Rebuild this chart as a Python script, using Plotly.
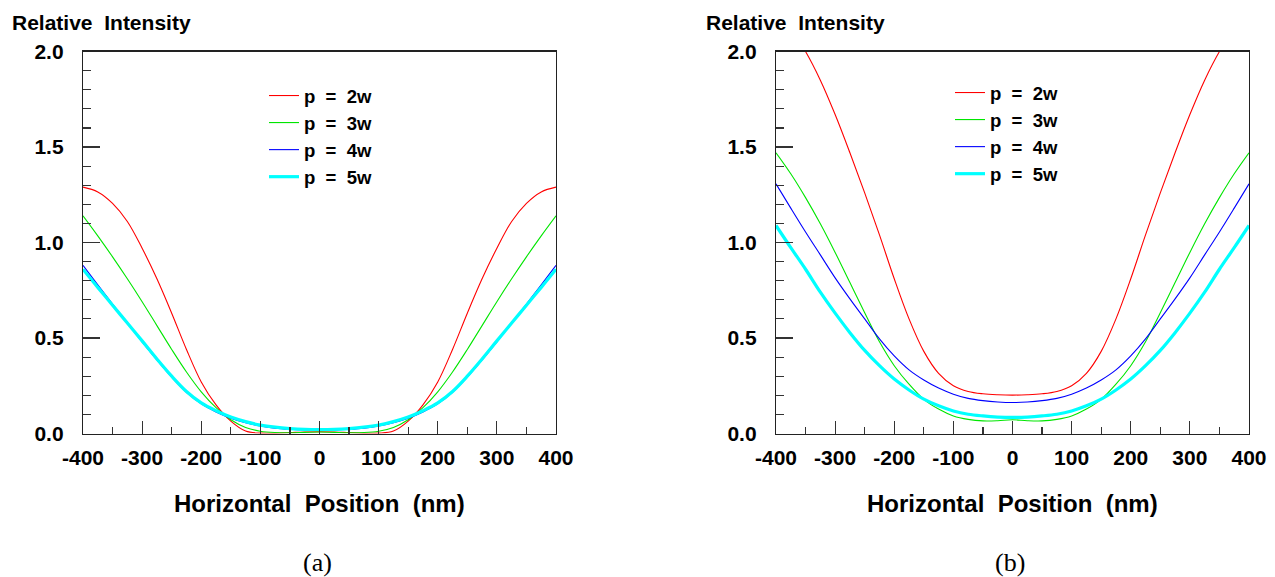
import plotly.graph_objects as go

# ---------------- data ----------------
x_nm = [-400, -375, -350, -325, -300, -275, -250, -225, -200, -175, -150, -125, -100, -75, -50, -25,
        0, 25, 50, 75, 100, 125, 150, 175, 200, 225, 250, 275, 300, 325, 350, 375, 400]

series_names = ["p\u00a0\u00a0=\u00a0\u00a02w", "p\u00a0\u00a0=\u00a0\u00a03w",
                "p\u00a0\u00a0=\u00a0\u00a04w", "p\u00a0\u00a0=\u00a0\u00a05w"]

# panel (a)
a_p2 = [1.29, 1.265, 1.205, 1.11, 0.97, 0.81, 0.63, 0.44, 0.27, 0.15, 0.065, 0.013, 0.002, 0.002, 0.005, 0.008,
        0.009, 0.008, 0.005, 0.002, 0.002, 0.013, 0.065, 0.15, 0.27, 0.44, 0.63, 0.81, 0.97, 1.11, 1.205, 1.265, 1.29]
a_p3 = [1.14, 1.035, 0.925, 0.81, 0.69, 0.565, 0.44, 0.322, 0.218, 0.135, 0.072, 0.032, 0.012, 0.005, 0.004, 0.006,
        0.008, 0.006, 0.004, 0.005, 0.012, 0.032, 0.072, 0.135, 0.218, 0.322, 0.44, 0.565, 0.69, 0.81, 0.925, 1.035, 1.14]
a_p4 = [0.88, 0.778, 0.678, 0.578, 0.48, 0.385, 0.295, 0.215, 0.155, 0.113, 0.08, 0.056, 0.039, 0.028, 0.022, 0.019,
        0.018, 0.019, 0.022, 0.028, 0.039, 0.056, 0.08, 0.113, 0.155, 0.215, 0.295, 0.385, 0.48, 0.578, 0.678, 0.778, 0.88]
a_p5 = [0.86, 0.765, 0.672, 0.578, 0.485, 0.39, 0.30, 0.22, 0.16, 0.119, 0.086, 0.062, 0.044, 0.033, 0.026, 0.022,
        0.021, 0.022, 0.026, 0.033, 0.044, 0.062, 0.086, 0.119, 0.16, 0.22, 0.30, 0.39, 0.485, 0.578, 0.672, 0.765, 0.86]

# panel (b)
b_p2 = [2.22, 2.12, 2.00, 1.85, 1.67, 1.47, 1.26, 1.04, 0.81, 0.60, 0.43, 0.315, 0.25, 0.22, 0.208, 0.203,
        0.201, 0.203, 0.208, 0.22, 0.25, 0.315, 0.43, 0.60, 0.81, 1.04, 1.26, 1.47, 1.67, 1.85, 2.00, 2.12, 2.22]
b_p3 = [1.47, 1.36, 1.235, 1.098, 0.948, 0.79, 0.632, 0.48, 0.355, 0.258, 0.179, 0.128, 0.092, 0.074, 0.066, 0.067,
        0.072, 0.067, 0.066, 0.074, 0.092, 0.128, 0.179, 0.258, 0.355, 0.48, 0.632, 0.79, 0.948, 1.098, 1.235, 1.36, 1.47]
b_p4 = [1.307, 1.18, 1.055, 0.935, 0.815, 0.705, 0.60, 0.495, 0.406, 0.333, 0.28, 0.238, 0.206, 0.184, 0.172, 0.165,
        0.162, 0.165, 0.172, 0.184, 0.206, 0.238, 0.28, 0.333, 0.406, 0.495, 0.60, 0.705, 0.815, 0.935, 1.055, 1.18, 1.307]
b_p5 = [1.089, 0.973, 0.86, 0.74, 0.63, 0.528, 0.435, 0.355, 0.285, 0.228, 0.18, 0.145, 0.118, 0.101, 0.092, 0.086,
        0.084, 0.086, 0.092, 0.101, 0.118, 0.145, 0.18, 0.228, 0.285, 0.355, 0.435, 0.528, 0.63, 0.74, 0.86, 0.973, 1.089]

x_tickvals = [-400, -300, -200, -100, 0, 100, 200, 300, 400]
x_ticktext = ["-400", "-300", "-200", "-100", "0", "100", "200", "300", "400"]
y_tickvals = [0.0, 0.5, 1.0, 1.5, 2.0]
y_ticktext = ["0.0", "0.5", "1.0", "1.5", "2.0"]

y_title = "Relative\u00a0\u00a0Intensity"
x_title = "Horizontal\u00a0\u00a0Position\u00a0\u00a0(nm)"
panel_labels = ["(a)", "(b)"]

colors = ["#ff0000", "#00e600", "#0000ff", "#00ffff"]
widths = [1.1, 1.1, 1.1, 3.2]

# ---------------- figure ----------------
W, H = 1275, 577
fig = go.Figure()

panels = [
    ("x", "y", "legend", [a_p2, a_p3, a_p4, a_p5]),
    ("x2", "y2", "legend2", [b_p2, b_p3, b_p4, b_p5]),
]
for pi, (xa, ya, lg, data) in enumerate(panels):
    for si, ys in enumerate(data):
        fig.add_trace(go.Scatter(
            x=x_nm, y=ys, mode="lines", xaxis=xa, yaxis=ya,
            name=series_names[si], legend=lg, legendgroup=f"{pi}-{si}",
            line=dict(color=colors[si], width=widths[si], shape="spline", smoothing=1.0),
            hoverinfo="skip",
        ))

tick_font = dict(family="Liberation Sans, Arial, sans-serif", size=21, color="black", weight="bold")
axis_common = dict(showline=True, linecolor="#222", linewidth=1.2, mirror=True,
                   ticks="inside", tickcolor="#333", tickwidth=1.2, automargin=False,
                   showgrid=False, zeroline=False, tickfont=tick_font, fixedrange=True)

xdom_a = [83 / W, 556 / W]
xdom_b = [776 / W, 1249 / W]
ydom = [1 - 433.5 / H, 1 - 51.5 / H]

for xname, yname, xdom, ynum in [("xaxis", "yaxis", xdom_a, "y"), ("xaxis2", "yaxis2", xdom_b, "y2")]:
    fig.update_layout({
        xname: dict(axis_common, domain=xdom, range=[-400, 400], anchor=ynum,
                    tickvals=x_tickvals, ticktext=x_ticktext, ticklen=13,
                    minor=dict(ticks="inside", ticklen=7, dtick=50, tickcolor="#333", tickwidth=1.2),
                    ticklabelstandoff=5),
        yname: dict(axis_common, domain=ydom, range=[0, 2.0], anchor=("x" if ynum == "y" else "x2"),
                    tickvals=y_tickvals, ticktext=y_ticktext, ticklen=17,
                    minor=dict(ticks="inside", ticklen=8, dtick=0.1, tickcolor="#333", tickwidth=1.2),
                    ticklabelstandoff=14),
    })

legend_font = dict(family="Liberation Sans, Arial, sans-serif", size=18.5, color="black", weight="bold")
fig.update_layout(
    legend=dict(x=264 / W, y=1 - 77 / H, xanchor="left", yanchor="top", font=legend_font,
                bgcolor="rgba(0,0,0,0)", tracegroupgap=0, itemwidth=30),
    legend2=dict(x=950 / W, y=1 - 74 / H, xanchor="left", yanchor="top", font=legend_font,
                 bgcolor="rgba(0,0,0,0)", tracegroupgap=0, itemwidth=30),
)

ann_font = dict(family="Liberation Sans, Arial, sans-serif", size=21, color="black", weight="bold")
xt_font = dict(family="Liberation Sans, Arial, sans-serif", size=24, color="black", weight="bold")
lab_font = dict(family="Liberation Serif, Times New Roman, serif", size=26, color="black")
annotations = [
    dict(text=y_title, x=10 / W, y=1 - 22 / H, xanchor="left", yanchor="middle", font=ann_font),
    dict(text=y_title, x=704 / W, y=1 - 22 / H, xanchor="left", yanchor="middle", font=ann_font),
    dict(text=x_title, x=(xdom_a[0] + xdom_a[1]) / 2, y=1 - 503 / H, xanchor="center", yanchor="middle", font=xt_font),
    dict(text=x_title, x=(xdom_b[0] + xdom_b[1]) / 2, y=1 - 503 / H, xanchor="center", yanchor="middle", font=xt_font),
    dict(text=panel_labels[0], x=317 / W, y=1 - 562 / H, xanchor="center", yanchor="middle", font=lab_font),
    dict(text=panel_labels[1], x=1010 / W, y=1 - 562 / H, xanchor="center", yanchor="middle", font=lab_font),
]
for a in annotations:
    a.update(xref="paper", yref="paper", showarrow=False)

fig.update_layout(
    width=W, height=H, margin=dict(l=0, r=0, t=0, b=0, autoexpand=False),
    paper_bgcolor="white", plot_bgcolor="white",
    annotations=annotations, showlegend=True,
)

fig.write_html("out.html", config={"displayModeBar": False, "staticPlot": True},
               post_script="document.body.style.margin='0';document.body.style.overflow='hidden';")
